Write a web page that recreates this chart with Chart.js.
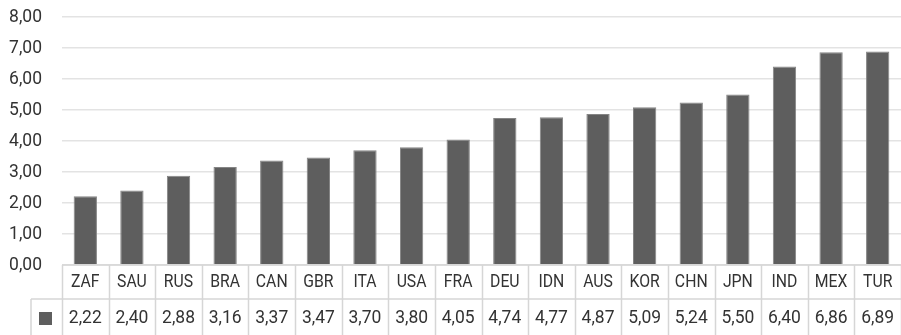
<!DOCTYPE html>
<html>
<head>
<meta charset="utf-8">
<script src="https://cdn.jsdelivr.net/npm/chart.js@4/dist/chart.umd.min.js"></script>
<style>
  html, body { margin: 0; padding: 0; background: #ffffff; }
  #wrap { width: 901px; height: 335px; position: relative; }
</style>
</head>
<body>
<div id="wrap"><canvas id="c"></canvas></div>
<script>
// Country codes along the category axis
const countries = ["ZAF","SAU","RUS","BRA","CAN","GBR","ITA","USA","FRA","DEU","IDN","AUS","KOR","CHN","JPN","IND","MEX","TUR"];
// Values per country
const values = [2.22,2.40,2.88,3.16,3.37,3.47,3.70,3.80,4.05,4.74,4.77,4.87,5.09,5.24,5.50,6.40,6.86,6.89];
// Value axis range
const yMin = 0, yMax = 8, yStep = 1;

const FONT = 'Roboto, "Noto Sans", sans-serif';
const FONT_SIZE = 19;
const SQUEEZE_TEXT = 0.83;    // horizontal narrowing for letters
const SQUEEZE_NUM = 0.92;     // horizontal narrowing for numbers
const TEXT = '#333333';
const LINE = '#d6d6d6';
const BAR = '#5e5e5e';

const fmt = v => v.toFixed(2).replace('.', ',');

// Draw a horizontally narrowed string centred vertically on y
function narrowText(ctx, str, x, y, align, k) {
  ctx.save();
  ctx.translate(x, y);
  ctx.scale(k, 1);
  ctx.textAlign = align;
  ctx.textBaseline = 'middle';
  ctx.fillText(str, 0, 0);
  ctx.restore();
}

// Value-axis labels and the data table under the plot
const tableAndLabels = {
  id: 'tableAndLabels',
  afterDraw(chart) {
    const ctx = chart.ctx;
    const xs = chart.scales.x;
    const ys = chart.scales.y;
    const area = chart.chartArea;
    const n = countries.length;
    const cw = (area.right - area.left) / n;
    const top = area.bottom;
    const rowH = 34;
    const r1 = top + rowH;
    const bottom = chart.height + 2;
    const legendLeft = 31;

    ctx.save();
    ctx.fillStyle = TEXT;
    ctx.font = FONT_SIZE + 'px ' + FONT;

    // value-axis tick labels
    ys.ticks.forEach(t => {
      narrowText(ctx, fmt(t.value), area.left - 20, ys.getPixelForValue(t.value) + 0.5, 'right', SQUEEZE_NUM);
    });

    // table grid
    ctx.strokeStyle = LINE;
    ctx.lineWidth = 1.5;
    ctx.beginPath();
    ctx.moveTo(area.left, top); ctx.lineTo(area.right, top);
    ctx.moveTo(legendLeft, r1); ctx.lineTo(area.right, r1);
    ctx.moveTo(legendLeft, r1); ctx.lineTo(legendLeft, bottom);
    for (let i = 0; i <= n; i++) {
      const x = Math.round(area.left + i * cw) + 0.5;
      ctx.moveTo(x, top); ctx.lineTo(x, bottom);
    }
    ctx.stroke();

    // table text
    countries.forEach((c, i) => {
      const x = xs.getPixelForValue(i);
      narrowText(ctx, c, x, top + 17.5, 'center', SQUEEZE_TEXT);
      narrowText(ctx, fmt(values[i]), x, r1 + 19.5, 'center', SQUEEZE_NUM);
    });

    // legend key
    ctx.fillStyle = BAR;
    ctx.fillRect(39, r1 + 13, 13, 13);
    ctx.restore();
  }
};

new Chart(document.getElementById('c'), {
  type: 'bar',
  data: {
    labels: countries,
    datasets: [{
      data: values,
      backgroundColor: BAR,
      borderColor: '#858585',
      borderWidth: 1,
      barPercentage: 0.5,
      categoryPercentage: 1.0
    }]
  },
  options: {
    responsive: true,
    maintainAspectRatio: false,
    animation: false,
    devicePixelRatio: 1,
    layout: { padding: { top: 17, right: 0, bottom: 70, left: 0 } },
    plugins: { legend: { display: false }, tooltip: { enabled: false } },
    scales: {
      x: { display: false },
      y: {
        min: yMin, max: yMax,
        afterFit(scale) { scale.width = 62; },
        border: { display: false },
        grid: { color: '#e3e3e3', lineWidth: 1.5, drawTicks: false },
        ticks: { stepSize: yStep, display: false }
      }
    }
  },
  plugins: [tableAndLabels]
});
</script>
</body>
</html>
